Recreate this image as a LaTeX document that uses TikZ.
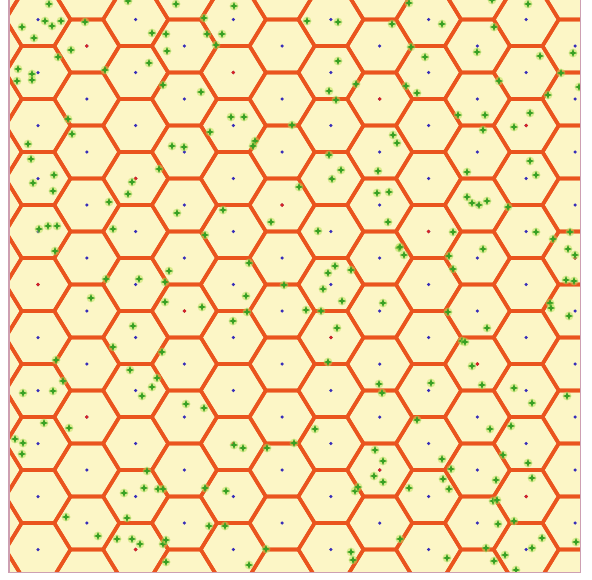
\documentclass[tikz,border=0pt]{standalone}
\definecolor{hexfill}{RGB}{252,246,198}
\definecolor{hexline}{RGB}{234,84,30}
\definecolor{cdot}{RGB}{55,45,185}
\definecolor{rdot}{RGB}{215,35,35}
\definecolor{gstar}{RGB}{55,160,35}
\definecolor{ghalo}{RGB}{185,225,90}
\definecolor{framec}{RGB}{205,160,178}
\tikzset{
  hexedge/.style={draw=hexline, line width=3.6pt, line join=round},
  bluedot/.style={fill=cdot},
  reddot/.style={fill=rdot},
  starfill/.style={fill=gstar},
  halofill/.style={fill=ghalo, opacity=0.5},
  framestyle/.style={draw=framec, line width=1.2pt}
}
\begin{document}
\begin{tikzpicture}[x=1pt,y=-1pt]
\useasboundingbox (0,0) rectangle (592,579);
\fill[white] (0,0) rectangle (592,579);
\begin{scope}
\clip (9,0) rectangle (580.5,572.5);
\fill[hexfill] (9,0) rectangle (580.5,572.5);
% hexagonal cells
\foreach \i in {-1,...,12}{
  \pgfmathsetmacro\cx{38+48.82*\i}
  \pgfmathsetmacro\cy{19.5+26.5*mod(\i+2,2)}
  \foreach \j in {-1,...,11}{
    \pgfmathsetmacro\yy{\cy+53*\j}
    \draw[hexedge, shift={(\cx,\yy)}] (-32.55,0) -- (-16.27,-26.5) -- (16.27,-26.5) -- (32.55,0) -- (16.27,26.5) -- (-16.27,26.5) -- cycle;
  }
}
% cell centres
\foreach \i in {0,...,11}{
  \pgfmathsetmacro\cx{38+48.82*\i}
  \pgfmathsetmacro\cy{19.5+26.5*mod(\i+2,2)}
  \foreach \j in {0,...,10}{
    \pgfmathsetmacro\yy{\cy+53*\j}
    \fill[bluedot] (\cx,\yy) circle (1.75);
  }
}
% co-channel cells (red centres)
\foreach \i/\j in {1/0,4/1,7/1,10/2,2/3,5/3,8/4,11/4,0/5,3/5,6/6,9/6,1/7,4/8,7/8,10/9,2/10}{
  \pgfmathsetmacro\cx{38+48.82*\i}
  \pgfmathsetmacro\cy{19.5+26.5*mod(\i+2,2)+53*\j}
  \fill[reddot] (\cx,\cy) circle (1.9);
}
% green stars
\foreach \x/\y in {49/4, 45/21, 52/26, 61/21, 22/27, 34/38, 85/22, 71/50, 58/57, 105/70, 149/63, 152/33, 166/34, 167/51, 163/85, 176/4, 128/1, 18/69, 32/74, 32/80, 17/81, 68/119, 72/134, 28/144, 31/159, 54/175, 33/183, 53/191, 128/194, 132/182, 159/169, 172/146, 184/147,
409/3, 442/24, 392/24, 494/27, 528/4, 492/0, 411/47, 425/57, 477/52, 540/56, 573/53, 561/73, 499/81, 406/86, 417/93, 548/95, 579/87, 485/115, 458/115, 530/113, 514/127, 483/130, 393/135, 397/143, 530/161, 536/175, 467/172, 467/197,
204/18, 207/34, 222/34, 216/45, 234/6, 307/21, 338/22, 338/61, 329/91, 336/100, 356/84, 255/141, 253/146, 231/117, 244/117, 210/132, 201/92, 292/125, 329/155, 299/187, 332/179, 341/170, 377/193, 389/192, 378/171,
39/229, 48/226, 57/226, 55/251, 113/229, 109/202, 177/213, 106/279, 139/279, 165/282, 169/271, 91/298, 165/302, 133/326, 113/347, 56/360, 162/352, 130/370, 157/378,
223/210, 271/222, 205/235, 318/231, 388/222, 249/263, 335/266, 328/273, 351/270, 323/289, 284/285, 246/296, 342/301, 202/307, 383/303, 306/310, 321/311, 247/312, 233/321, 337/328, 328/362, 379/384, 382/393, 399/248,
472/203, 479/205, 487/201, 508/207, 536/232, 553/239, 570/232, 575/255, 568/249, 483/249, 453/232, 449/256, 453/269, 404/255, 400/247, 550/303, 551/308, 566/280, 574/281, 569/316, 487/328, 462/341, 465/342, 448/312, 472/366,
23/393, 53/391, 63/381, 152/387, 142/396, 186/404, 44/423, 69/428, 15/439, 23/443, 22/454, 147/471, 144/488, 124/493, 158/489, 163/489, 66/517, 127/518, 98/536, 117/539, 132/539, 140/544, 163/544, 166/540, 166/562,
431/383, 482/385, 514/388, 532/403, 567/396, 417/420, 490/429, 511/426, 442/459, 451/469, 443/479, 449/489, 409/488, 503/455, 528/463, 532/478, 496/480, 493/501, 497/500, 514/521, 498/524, 542/538, 576/542, 400/539, 447/558, 486/548, 505/555, 532/548, 494/561, 516/570,
204/408, 234/445, 243/448, 294/443, 315/429, 267/448, 226/491, 205/488, 225/526, 209/526, 249/565, 266/549, 351/552, 353/560, 355/491, 358/487, 375/450, 383/461, 374/476, 383/482}{
  \fill[halofill] (\x,\y) circle (4.4);
  \fill[starfill, shift={(\x,\y)}] (4.2,0) -- (1.1,1.1) -- (0,4.2) -- (-1.1,1.1) -- (-4.2,0) -- (-1.1,-1.1) -- (0,-4.2) -- (1.1,-1.1) -- cycle;
}
\end{scope}
\draw[framestyle] (9,0) -- (9,572.5) -- (580.5,572.5) -- (580.5,0);
\end{tikzpicture}
\end{document}
